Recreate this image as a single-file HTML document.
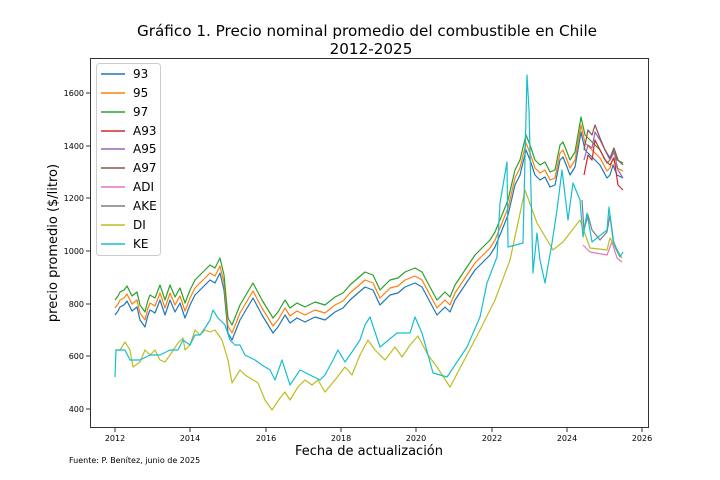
<!DOCTYPE html>
<html><head><meta charset="utf-8"><style>
body{margin:0;background:#fff}
svg{display:block;font-family:"DejaVu Sans","Liberation Sans",sans-serif}
</style></head><body>
<svg width="720" height="480" viewBox="0 0 720 480" xmlns="http://www.w3.org/2000/svg">
<rect width="720" height="480" fill="#fff"/>
<text x="367" y="36" font-size="15.2" text-anchor="middle">Gráfico 1. Precio nominal promedio del combustible en Chile</text>
<text x="371" y="54" font-size="15.2" text-anchor="middle">2012-2025</text>
<g fill="none" stroke-width="1.2" stroke-linejoin="round">
<defs>
<polyline id="g97" points="115,300 118,296 120,292 124,290 127,286 132,296 137,292 140,305 145,312 148,300 150,295 155,298 160,285 165,300 170,285 175,297 180,288 185,303 190,290 195,280 200,275 205,270 210,265 215,268 220,258 224,275 228,318 232,325 240,305 253,283 262,300 273,318 278,312 285,300 290,308 297,303 305,307 315,302 325,305 335,297 343,293 350,285 358,278 365,272 373,275 380,290 390,280 398,278 405,272 415,268 422,272 430,287 437,300 445,292 450,297 455,285 465,270 475,255 482,248 490,240 495,232 502,215 508,200 515,170 520,160 526,135 530,145 535,160 540,165 545,162 550,172 555,170 560,145 563,142 567,152 570,160 575,152 581,117 585,135 590,140 600,150 607,163 610,160 613,150 617,160 623,163"/>
</defs>
<use href="#g97" stroke="#1f77b4" transform="translate(0,15)"/>
<use href="#g97" stroke="#ff7f0e" transform="translate(0,8)"/>
<use href="#g97" stroke="#2ca02c"/>
<polyline stroke="#d62728" points="584,175 588,155 592,160 595,140 600,150 605,160 610,165 614,158 618,185 623,190"/>
<polyline stroke="#9467bd" points="584,160 588,145 592,148 595,132 600,140 605,150 610,160 614,152 618,170 623,178"/>
<polyline stroke="#8c564b" points="584,150 588,130 592,135 595,125 600,138 605,150 610,158 614,148 618,160 623,165"/>
<polyline stroke="#7f7f7f" points="582,200 584,230 588,215 592,230 600,240 607,232 610,215 614,245 620,257"/>
<polyline stroke="#e377c2" points="583,245 590,252 607,255 612,242 617,258 622,262"/>
<polyline stroke="#bcbd22" points="115,350 120,350 125,342 130,350 133,367 140,362 145,350 150,355 155,350 160,360 165,362 170,355 178,343 183,338 185,350 190,345 195,330 200,335 205,330 210,332 215,330 222,340 228,360 232,383 240,370 245,375 258,383 265,400 272,410 280,398 285,392 290,400 298,387 305,380 312,385 318,380 325,392 335,380 345,367 352,375 360,355 368,340 375,350 385,360 395,347 402,357 410,345 418,336 428,355 437,367 450,387 467,355 480,330 495,300 510,260 525,190 537,223 553,250 563,242 580,220 590,248 607,250 610,238 622,258"/>
<polyline stroke="#17becf" points="115,377 116,350 125,350 130,360 140,360 150,355 160,355 170,350 178,350 183,340 190,345 195,335 200,335 205,328 210,320 213,310 218,318 225,325 230,340 235,345 240,345 245,355 255,360 262,365 270,370 275,380 282,360 290,385 300,370 310,375 320,380 325,375 333,360 338,350 345,362 352,352 360,340 365,325 370,317 380,347 397,333 410,333 415,317 422,333 433,373 447,377 467,347 480,317 487,283 497,257 500,203 507,162 508,247 523,243 527,75 529,110 533,273 537,233 540,260 545,283 552,243 557,210 562,170 568,220 573,183 580,200 583,237 587,213 592,242 607,230 609,207 613,240 620,257 623,252"/>
</g>
<rect x="90.5" y="58.5" width="558" height="369" fill="none" stroke="#000" stroke-width="0.8"/>
<g stroke="#000" stroke-width="0.8">
<line x1="86" x2="90" y1="93" y2="93"/><line x1="86" x2="90" y1="146" y2="146"/><line x1="86" x2="90" y1="198" y2="198"/><line x1="86" x2="90" y1="251" y2="251"/><line x1="86" x2="90" y1="304" y2="304"/><line x1="86" x2="90" y1="356" y2="356"/><line x1="86" x2="90" y1="409" y2="409"/>
</g>
<g font-size="8" text-anchor="end">
<text x="84" y="96">1600</text><text x="84" y="149">1400</text><text x="84" y="201">1200</text><text x="84" y="254">1000</text><text x="84" y="307">800</text><text x="84" y="359">600</text><text x="84" y="412">400</text>
</g>
<g stroke="#000" stroke-width="0.8">
<line x1="115" x2="115" y1="428" y2="432"/><line x1="190" x2="190" y1="428" y2="432"/><line x1="266" x2="266" y1="428" y2="432"/><line x1="341" x2="341" y1="428" y2="432"/><line x1="416" x2="416" y1="428" y2="432"/><line x1="492" x2="492" y1="428" y2="432"/><line x1="567" x2="567" y1="428" y2="432"/><line x1="642" x2="642" y1="428" y2="432"/>
</g>
<g font-size="8" text-anchor="middle">
<text x="115" y="441">2012</text><text x="190" y="441">2014</text><text x="266" y="441">2016</text><text x="341" y="441">2018</text><text x="416" y="441">2020</text><text x="492" y="441">2022</text><text x="567" y="441">2024</text><text x="642" y="441">2026</text>
</g>
<text x="369" y="455" font-size="13" text-anchor="middle">Fecha de actualización</text>
<text transform="translate(57,243) rotate(-90)" font-size="13" text-anchor="middle">precio promedio ($/litro)</text>
<text x="69" y="463" font-size="8">Fuente: P. Benítez, junio de 2025</text>
<rect x="96.5" y="63.5" width="64" height="192" rx="3" fill="#fff" fill-opacity="0.8" stroke="#ccc"/>
<g stroke-width="1.5">
<line x1="101" x2="125" y1="74" y2="74" stroke="#1f77b4"/>
<line x1="101" x2="125" y1="93" y2="93" stroke="#ff7f0e"/>
<line x1="101" x2="125" y1="112" y2="112" stroke="#2ca02c"/>
<line x1="101" x2="125" y1="131" y2="131" stroke="#d62728"/>
<line x1="101" x2="125" y1="149" y2="149" stroke="#9467bd"/>
<line x1="101" x2="125" y1="168" y2="168" stroke="#8c564b"/>
<line x1="101" x2="125" y1="187" y2="187" stroke="#e377c2"/>
<line x1="101" x2="125" y1="206" y2="206" stroke="#7f7f7f"/>
<line x1="101" x2="125" y1="225" y2="225" stroke="#bcbd22"/>
<line x1="101" x2="125" y1="244" y2="244" stroke="#17becf"/>
</g>
<g font-size="12">
<text x="133" y="78">93</text><text x="133" y="97">95</text><text x="133" y="116">97</text><text x="133" y="135">A93</text><text x="133" y="153">A95</text><text x="133" y="172">A97</text><text x="133" y="191">ADI</text><text x="133" y="210">AKE</text><text x="133" y="229">DI</text><text x="133" y="248">KE</text>
</g>
</svg>
</body></html>
